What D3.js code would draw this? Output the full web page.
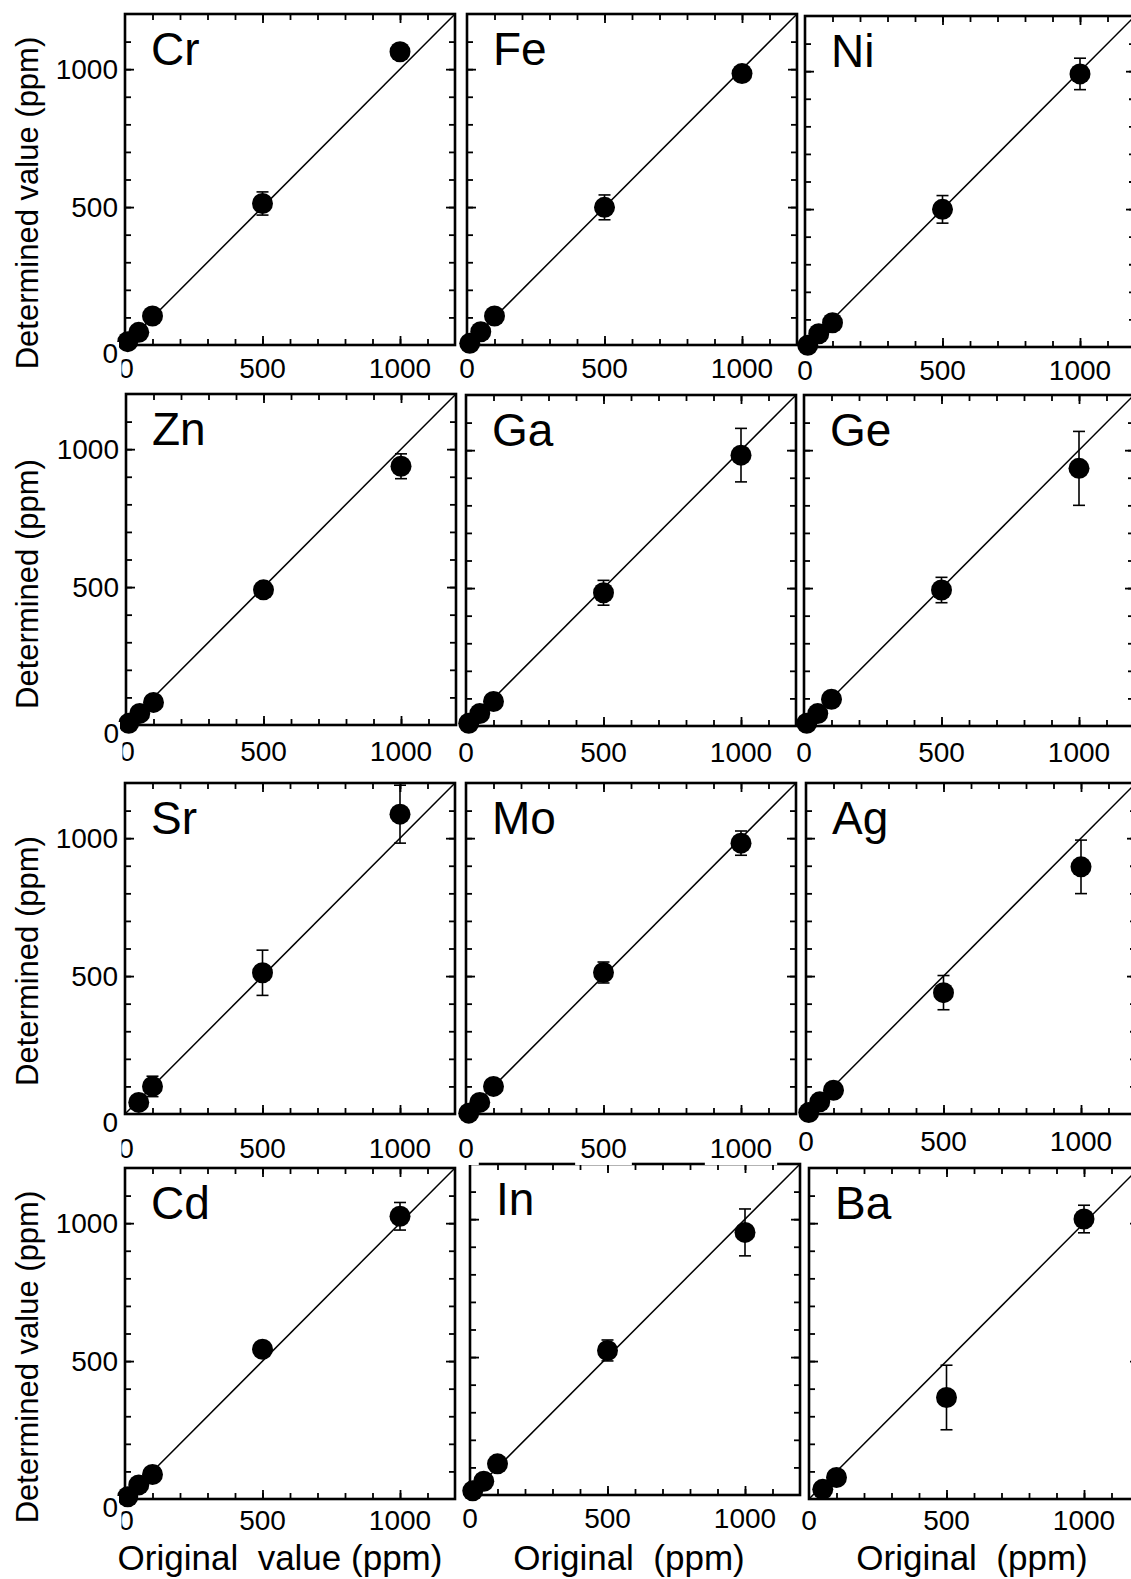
<!DOCTYPE html>
<html>
<head>
<meta charset="utf-8">
<script src="https://cdn.jsdelivr.net/npm/d3@7"></script>
<style>
  body { margin: 0; background: #fff; }
  text { font-family: "Liberation Sans", Arial, sans-serif; fill: #000; }
</style>
</head>
<body>
<script>
// --- data ---
const elements = ["Cr", "Fe", "Ni", "Zn", "Ga", "Ge", "Sr", "Mo", "Ag", "Cd", "In", "Ba"];
const originalValues = [10, 50, 100, 500, 1000];

const crValue = [12, 46, 105, 513, 1063];
const crError = [0, 0, 0, 42, 0];
const feValue = [6, 48, 105, 499, 984];
const feError = [0, 0, 0, 45, 0];
const niValue = [6, 48, 88, 499, 990];
const niError = [0, 0, 0, 50, 57];
const znValue = [6, 42, 82, 490, 938];
const znError = [0, 0, 0, 0, 45];
const gaValue = [10, 45, 89, 483, 982];
const gaError = [0, 0, 0, 45, 97];
const geValue = [10, 45, 97, 493, 934];
const geError = [0, 0, 0, 46, 134];
const srValue = [null, 42, 100, 512, 1087];
const srError = [0, 0, 37, 82, 105];
const moValue = [3, 42, 100, 513, 982];
const moError = [0, 0, 0, 38, 44];
const agValue = [5, 44, 86, 440, 896];
const agError = [0, 0, 0, 62, 97];
const cdValue = [8, 51, 89, 543, 1025];
const cdError = [0, 0, 0, 15, 50];
const inValue = [15, 50, 113, 524, 952];
const inError = [0, 0, 0, 38, 85];
const baValue = [null, 35, 78, 368, 1015];
const baError = [0, 0, 0, 117, 50];

const xTickLabels = [0, 500, 1000];
const yTickLabels = [0, 500, 1000];
const yTitles = ["Determined value (ppm)", "Determined (ppm)", "Determined (ppm)", "Determined value (ppm)"];
const xTitles = ["Original  value (ppm)", "Original  (ppm)", "Original  (ppm)"];

const values = [crValue, feValue, niValue, znValue, gaValue, geValue, srValue, moValue, agValue, cdValue, inValue, baValue];
const errors = [crError, feError, niError, znError, gaError, geError, srError, moError, agError, cdError, inError, baError];

// --- layout ---
const panelTop = [[14, 14, 16], [394, 395, 395], [783, 783, 783], [1168, 1164, 1168]];
const panelLeft = [[125, 467, 805], [126, 466, 804], [125, 466, 806], [125, 470, 809]];
const labelGap = [[33, 33, 33], [36, 36, 36], [44, 44, 37], [31, 33, 31]];
const yTitleCenter = [203, 584, 961, 1357];
const xTitleCenter = [280, 629, 972];
const W = 330, H = 331, R = 10.5;
const tickFont = 28;

const svg = d3.select("body").append("svg")
  .attr("width", 1131)
  .attr("height", 1579);

const gPanels = svg.append("g");
const gLabels = svg.append("g");

const minorTicks = d3.range(100, 1200, 100);
const majorTicks = [500, 1000];

const panels = elements.map((name, i) => {
  const row = Math.floor(i / 3), col = i % 3;
  const left = panelLeft[row][col], top = panelTop[row][col];
  const x = d3.scaleLinear().domain([0, 1200]).range([left, left + W]);
  const y = d3.scaleLinear().domain([0, 1200]).range([top + H, top]);
  return { name, row, col, x, y, left, top, values: values[i], errors: errors[i] };
});

function tickAxis(g, axis, size, ticks) {
  g.call(axis.tickValues(ticks).tickSize(-size).tickSizeOuter(0).tickFormat(""));
  g.select(".domain").remove();
  g.selectAll(".tick line").attr("stroke", "#000").attr("stroke-width", 1.8);
}

panels.forEach((p) => {
  const g = gPanels.append("g");
  const bottom = p.top + H, right = p.left + W;

  // ticks on all four sides, pointing inward
  [[minorTicks, 6], [majorTicks, 9]].forEach(([t, s]) => {
    tickAxis(g.append("g").attr("transform", `translate(0,${bottom})`), d3.axisBottom(p.x), s, t);
    tickAxis(g.append("g").attr("transform", `translate(0,${p.top})`), d3.axisTop(p.x), s, t);
    tickAxis(g.append("g").attr("transform", `translate(${p.left},0)`), d3.axisLeft(p.y), s, t);
    tickAxis(g.append("g").attr("transform", `translate(${right},0)`), d3.axisRight(p.y), s, t);
  });

  g.append("rect")
    .attr("x", p.left).attr("y", p.top)
    .attr("width", W).attr("height", H)
    .attr("fill", "none").attr("stroke", "#000").attr("stroke-width", 2.6);

  // 1:1 line
  g.append("line")
    .attr("x1", p.x(0)).attr("y1", p.y(0))
    .attr("x2", p.x(1200)).attr("y2", p.y(1200))
    .attr("stroke", "#000").attr("stroke-width", 1.5);

  g.append("text")
    .attr("x", p.left + 26).attr("y", p.top + 51)
    .attr("font-size", 46)
    .text(p.name);

  const pts = originalValues
    .map((o, k) => ({ o, v: p.values[k], e: p.errors[k] }))
    .filter((d) => d.v !== null);

  const bars = g.selectAll("g.err").data(pts.filter((d) => d.e > 0)).enter()
    .append("g").attr("class", "err")
    .attr("stroke", "#000").attr("stroke-width", 1.6);
  bars.append("line")
    .attr("x1", (d) => p.x(d.o)).attr("x2", (d) => p.x(d.o))
    .attr("y1", (d) => p.y(d.v - d.e)).attr("y2", (d) => p.y(d.v + d.e));
  [-1, 1].forEach((s) => {
    bars.append("line")
      .attr("x1", (d) => p.x(d.o) - 6).attr("x2", (d) => p.x(d.o) + 6)
      .attr("y1", (d) => p.y(d.v + s * d.e)).attr("y2", (d) => p.y(d.v + s * d.e));
  });

  g.selectAll("circle").data(pts).enter()
    .append("circle")
    .attr("cx", (d) => p.x(d.o))
    .attr("cy", (d) => p.y(d.v))
    .attr("r", R)
    .attr("fill", "#000");
});

// label with an opaque white box behind it (baseline-based)
function boxedLabel(parent, txt, x, y, anchor, up, down, pad) {
  const g = parent.append("g");
  const t = g.append("text")
    .attr("x", x).attr("y", y)
    .attr("text-anchor", anchor)
    .attr("font-size", tickFont)
    .text(txt);
  const b = t.node().getBBox();
  g.insert("rect", "text")
    .attr("x", b.x - pad).attr("y", y - up)
    .attr("width", b.width + 2 * pad).attr("height", up + down)
    .attr("fill", "#fff");
  return g;
}

// x tick labels
panels.forEach((p) => {
  const by = p.top + H + labelGap[p.row][p.col];
  xTickLabels.forEach((v) => {
    const first = v === 0 && p.col === 0;
    const g = boxedLabel(gLabels, v, p.x(v) + (first ? 1 : 0), by, "middle", 22, 7, 5);
    if (first) {
      const id = `clip${p.row}`;
      svg.append("clipPath").attr("id", id)
        .append("rect").attr("x", p.left - 3.5).attr("y", by - 40).attr("width", 60).attr("height", 60);
      g.attr("clip-path", `url(#${id})`);
    }
  });
});

// y tick labels (first column only)
panels.filter((p) => p.col === 0).forEach((p) => {
  yTickLabels.forEach((v) => {
    const cy = p.y(v) + (v === 0 ? 8 : 0);
    boxedLabel(gLabels, v, p.left - 7, cy + 10, "end", 21, 3, 1);
  });
});

// axis titles
yTitles.forEach((t, r) => {
  gLabels.append("text")
    .attr("transform", `translate(38,${yTitleCenter[r]}) rotate(-90)`)
    .attr("text-anchor", "middle")
    .attr("font-size", 31)
    .text(t);
});

xTitles.forEach((t, c) => {
  gLabels.append("text")
    .attr("x", xTitleCenter[c]).attr("y", 1570)
    .attr("text-anchor", "middle")
    .attr("font-size", 35)
    .style("white-space", "pre")
    .text(t);
});
</script>
</body>
</html>
